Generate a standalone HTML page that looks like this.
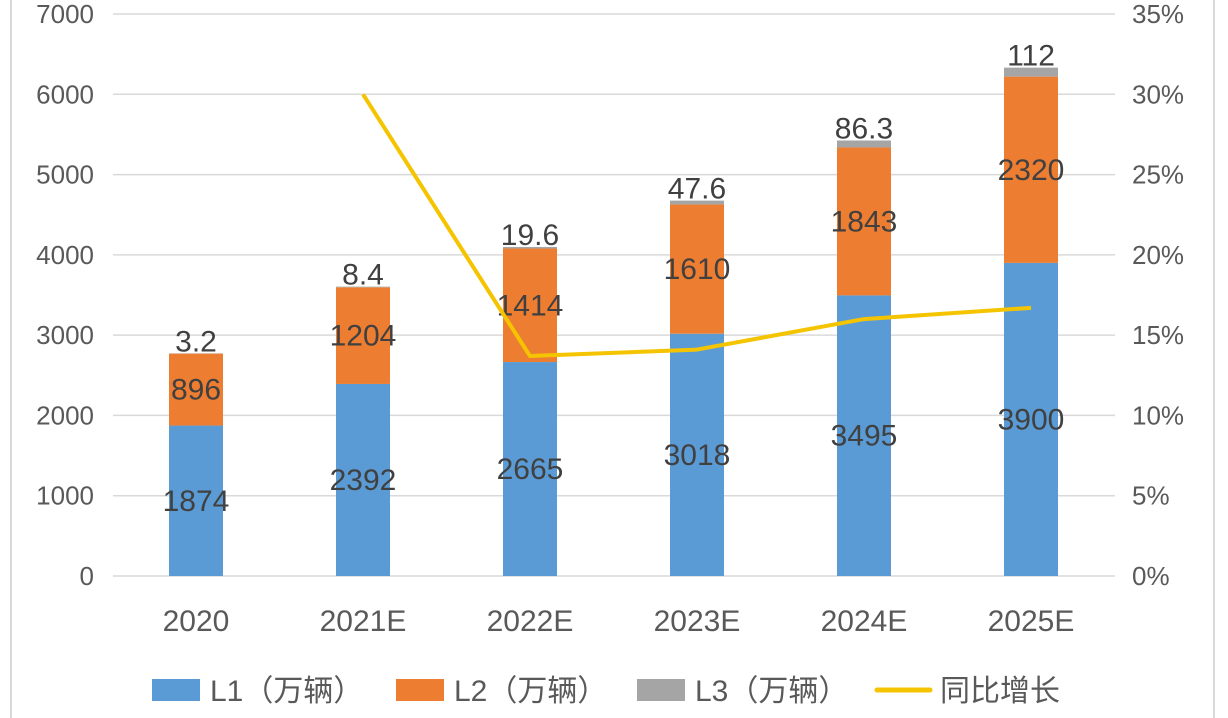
<!DOCTYPE html>
<html><head><meta charset="utf-8"><style>
html,body{margin:0;padding:0;background:#fff;}
svg{display:block;font-family:"Liberation Sans","Noto Sans CJK SC",sans-serif;}
</style></head><body>
<svg id="c" width="1228" height="718">
<rect x="11" y="-2" width="1203" height="730" fill="none" stroke="#d9d9d9" stroke-width="2"/>
</svg>
<script>
const categories=["2020","2021E","2022E","2023E","2024E","2025E"];
const l1=[1874,2392,2665,3018,3495,3900];
const l2=[896,1204,1414,1610,1843,2320];
const l3=[3.2,8.4,19.6,47.6,86.3,112];
const l3Labels=["3.2","8.4","19.6","47.6","86.3","112"];
const growth=[null,30.0,13.7,14.1,16.0,16.7];
const leftTicks=[0,1000,2000,3000,4000,5000,6000,7000];
const rightTicks=[0,5,10,15,20,25,30,35];
const NS="http://www.w3.org/2000/svg";
const svg=document.getElementById('c');
const X0=113,X1=1115,Y0=576,Y1=14;
const band=(X1-X0)/categories.length;
const xc=i=>X0+band*(i+0.5)-0.5;
const yL=v=>Y0-(v/7000)*(Y0-Y1);
const yR=v=>Y0-(v/35)*(Y0-Y1);
function mk(tag,a,txt){const e=document.createElementNS(NS,tag);for(const k in a)e.setAttribute(k,a[k]);if(txt!=null)e.textContent=txt;svg.appendChild(e);return e;}
leftTicks.forEach((t,i)=>{
 const g=mk('line',{x1:X0,x2:X1,y1:yL(t),y2:yL(t),stroke:'#d9d9d9','stroke-width':1.5});
 
 
 const e=mk('text',{x:94,y:yL(t)+9,'text-anchor':'end','font-size':26,fill:'#595959'},String(t));
 
 
});
rightTicks.forEach(t=>{
 const e=mk('text',{x:1132,y:yR(t)+9,'font-size':26,fill:'#595959'},t+'%');
 
 
});
const bw=54;
categories.forEach((c,i)=>{
 const x=xc(i)-bw/2;
 const a=yL(l1[i]),b=yL(l1[i]+l2[i]),d=yL(l1[i]+l2[i]+l3[i]);
 let r=mk('rect',{x:x,y:a,width:bw,height:Y0-a,fill:'#5b9bd5'});
 
 
 r=mk('rect',{x:x,y:b,width:bw,height:a-b,fill:'#ed7d31'});
 
 
 r=mk('rect',{x:x,y:d,width:bw,height:Math.max(b-d,0),fill:'#a5a5a5'});
 
 
 let t=mk('text',{x:xc(i),y:(a+Y0)/2+10,'text-anchor':'middle','font-size':30,fill:'#404040'},String(l1[i]));
 
 
 t=mk('text',{x:xc(i),y:(a+b)/2+10,'text-anchor':'middle','font-size':30,fill:'#404040'},String(l2[i]));
 
 
 t=mk('text',{x:xc(i),y:d-2,'text-anchor':'middle','font-size':30,fill:'#404040'},l3Labels[i]);
 
 
 t=mk('text',{x:xc(i),y:631,'text-anchor':'middle','font-size':30,fill:'#595959'},c);
 
 
});
const pts=growth.map((v,i)=>v==null?null:xc(i)+','+yR(v)).filter(p=>p);
const pl=mk('polyline',{points:pts.join(' '),fill:'none',stroke:'#f5c400','stroke-width':4,'stroke-linejoin':'round'});


const leg=[['rect',152,'#5b9bd5','L1（万辆）'],['rect',396,'#ed7d31','L2（万辆）'],['rect',637,'#a5a5a5','L3（万辆）'],['line',877,'#f5c400','同比增长']];
leg.forEach(l=>{
 let s;
 if(l[0]==='rect'){s=mk('rect',{x:l[1],y:679,width:48,height:22,fill:l[2]});}
 else{s=mk('line',{x1:l[1],x2:l[1]+53,y1:690,y2:690,stroke:l[2],'stroke-width':5,'stroke-linecap':'round'});}
 
 
 const t=mk('text',{x:l[0]==='rect'?l[1]+58:l[1]+63,y:701,'font-size':30,fill:'#595959'},l[3]);
 
 
});
</script>
</body></html>
